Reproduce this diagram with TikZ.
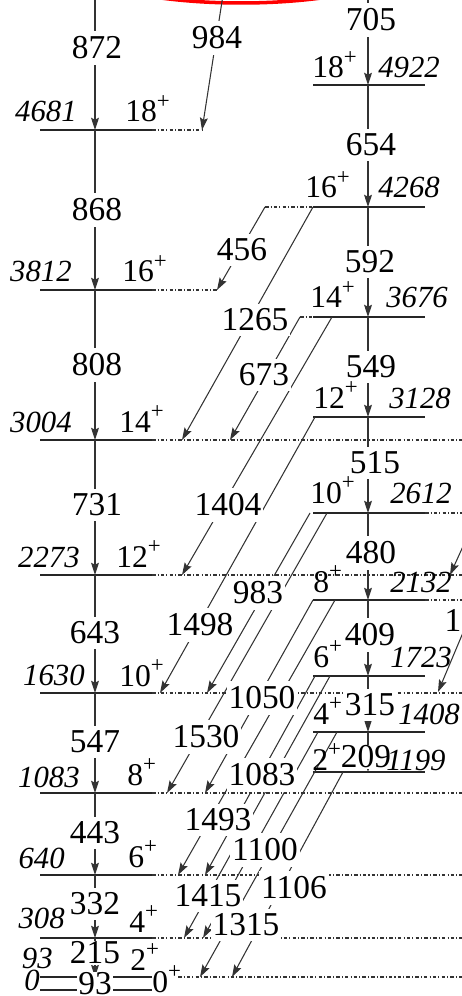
\documentclass[tikz,border=0pt]{standalone}
\usepackage{fontspec}
\setmainfont{Liberation Serif}
\usetikzlibrary{arrows.meta}
\newcommand{\pp}{\raisebox{0.42em}{\fontsize{13}{13}\selectfont+}}

\begin{document}
\begin{tikzpicture}[x=0.02cm, y=-0.02cm, >={Stealth[length=7pt,width=4.5pt,inset=1.2pt]},
  lvl/.style={line width=1.1pt, black!85},
  dots/.style={line width=0.7pt, black!80, dash pattern=on 2pt off 1.2pt on 0.6pt off 1.2pt},
  gam/.style={->, line width=0.6pt, black!80},
  glab/.style={fill=white, inner xsep=1pt, inner ysep=3pt, font=\fontsize{19}{19}\selectfont},
  elab/.style={inner sep=0pt, font=\fontsize{17.5}{17.5}\selectfont\itshape},
  slab/.style={inner sep=0pt, font=\fontsize{18}{18}\selectfont}]
  \clip (0,0) rectangle (462,996);

  % red mark, cut at the top
  \draw[red, line width=2pt] (241,-45) ellipse [x radius=180, y radius=48];

  % yrast band levels
  \foreach \e/\y in {4681/130, 3812/290, 3004/440, 2273/575, 1630/693, 1083/793, 640/875, 308/938, 93/977, 0/990} {
    \draw[lvl] (40,\y) -- (152,\y);
    \coordinate (L\e) at (95,\y);
  }
  \coordinate (Ltop) at (95,0);
  \draw[dots] (152,130) -- (202,130);
  \draw[dots] (152,290) -- (217,290);
  \foreach \y in {440,575,693,793,875,938}
    \draw[dots] (152,\y) -- (462,\y);
  \draw[dots] (178,977) -- (462,977);

  % side band levels
  \foreach \e/\y in {4922/85, 4268/207, 3676/317, 3128/417, 2612/513, 2132/600, 1723/676, 1408/732, 1199/772} {
    \draw[lvl] (313,\y) -- (425,\y);
    \coordinate (R\e) at (368,\y);
  }
  \coordinate (Rtop) at (368,0);
  \draw[dots] (265,207) -- (313,207);
  \draw[dots] (300,317) -- (313,317);
  \draw[dots] (425,513) -- (462,513);
  \draw[dots] (425,600) -- (462,600);

  % in-band transitions
  \foreach \a/\b in {top/4681, 4681/3812, 3812/3004, 3004/2273, 2273/1630, 1630/1083, 1083/640, 640/308, 308/93}
    \draw[gam] (L\a) -- (L\b);
  \foreach \a/\b in {top/4922, 4922/4268, 4268/3676, 3676/3128, 3128/2612, 2612/2132, 2132/1723, 1723/1408, 1408/1199}
    \draw[gam] (R\a) -- (R\b);

  % linking transitions
  \foreach \g/\xa/\ya/\xb/\yb in {984/223/-5/202/130, 456/265/207/217/290, 1265/313/207/182/440,
      673/300/317/230/440, 1404/332/317/182/575, 1498/315/417/160/693, 983/310/513/207/693,
      1530/327/513/167/793, 1050/313/600/205/793, 1493/335/600/178/875, 1083/315/676/205/875,
      1415/330/676/184/938, 1100/318/732/203/938, 1315/337/732/200/977, 1106/343/772/232/977} {
    \coordinate (a\g) at (\xa,\ya);
    \coordinate (b\g) at (\xb,\yb);
    \draw[gam] (a\g) -- (b\g);
  }
  % from the band cut off on the right
  \coordinate (aX1) at (470,531);
  \coordinate (bX1) at (450,575);
  \draw[gam] (aX1) -- (bX1);
  \coordinate (aX2) at (470,616);
  \coordinate (bX2) at (438,692);
  \draw[gam] (aX2) -- (bX2);

  % gamma energies
  \foreach \g/\x/\y in {872/97/48, 868/97/210, 808/97/365, 731/97/505, 643/95/633, 547/95/742,
      443/95/833, 332/95/904, 705/371/20, 654/371/145, 592/370/262, 549/371/367, 515/375/463,
      480/371/553, 409/370/635, 315/370/705, 984/217/38, 456/242/250, 1265/255/320, 673/264/375,
      1404/228/505, 1498/200/625, 983/258/593, 1530/206/737, 1050/262/698, 1493/218/820,
      1083/262/775, 1100/265/850, 1106/294/888, 1415/208/896, 1315/246/925}
    \node[glab] (g\g) at (\x,\y) {\g};
  \node[glab, inner ysep=0.5pt] (g215) at (95,953) {215};
  \node[glab, inner ysep=0.5pt] (g93) at (95,984) {93};
  \node[glab, inner ysep=0.5pt] (g209) at (366,757) {209};
  \node[glab, fill=none] (gX2) at (453,620) {1};

  % level energies and spins, yrast band
  \foreach \e/\x/\y in {4681/77/122, 3812/72/282, 3004/72/432, 2273/80/567, 1630/85/685,
      1083/80/787, 640/65/868, 308/65/928, 93/53/968, 0/40/990}
    \node[elab, anchor=base east] (e\e) at (\x,\y) {\e};
  \foreach \e/\s/\x/\y in {4681/18/125/122, 3812/16/122/282, 3004/14/119/432, 2273/12/116/567,
      1630/10/119/686, 1083/8/127/785, 640/6/128/867, 308/4/129/932, 93/2/130/970, 0/0/152/992}
    \node[slab, anchor=base west] (s\e) at (\x,\y) {\s\pp};

  % level energies and spins, side band
  \foreach \e/\s/\sx/\ex/\y in {4922/18/312/378/78, 4268/16/305/378/198, 3676/14/310/386/308,
      3128/12/313/389/408, 2612/10/310/390/503, 2132/8/313/390/592, 1723/6/313/390/667,
      1408/4/313/398/724, 1199/2/312/386/770} {
    \node[slab, anchor=base west] (s\e) at (\sx,\y) {\s\pp};
    \node[elab, anchor=base west] (e\e) at (\ex,\y) {\e};
  }
\end{tikzpicture}
\end{document}
